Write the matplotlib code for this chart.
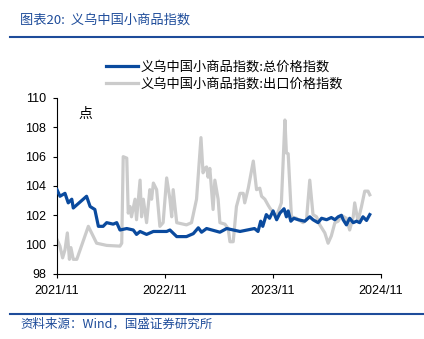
import matplotlib
matplotlib.use("Agg")
import matplotlib.pyplot as plt
import pandas as pd
from matplotlib.lines import Line2D

plt.rcParams['font.family'] = ['Liberation Sans', 'Noto Sans CJK SC', 'DejaVu Sans']

total_dates = ["2021-11-01", "2021-11-11", "2021-11-28", "2021-12-09", "2021-12-21", "2021-12-26",
               "2022-02-09", "2022-02-21", "2022-03-09", "2022-03-21", "2022-04-06", "2022-04-18",
               "2022-05-10", "2022-05-22", "2022-06-02", "2022-06-25", "2022-07-17", "2022-07-28",
               "2022-08-09", "2022-08-31", "2022-09-23", "2022-11-07", "2022-11-18", "2022-12-11",
               "2023-01-13", "2023-02-05", "2023-02-22", "2023-03-05", "2023-03-22", "2023-05-06",
               "2023-05-29", "2023-07-13", "2023-08-31", "2023-09-12", "2023-09-21", "2023-09-28",
               "2023-10-10", "2023-10-21", "2023-11-02", "2023-11-14", "2023-11-25", "2023-12-09",
               "2023-12-17", "2023-12-23", "2024-01-01", "2024-01-11", "2024-01-26", "2024-02-17",
               "2024-03-05", "2024-03-16", "2024-04-02", "2024-04-14", "2024-05-01", "2024-05-17",
               "2024-05-29", "2024-06-09", "2024-06-20", "2024-06-26", "2024-07-07", "2024-07-18",
               "2024-07-30", "2024-08-10", "2024-08-21", "2024-09-01", "2024-09-13", "2024-09-24"]
total_values = [103.75, 103.3, 103.5, 102.85, 103.1, 102.5,
                103.3, 102.6, 102.4, 101.25, 101.25, 101.5,
                101.4, 101.5, 101.0, 101.1, 101.0, 100.7,
                100.9, 100.7, 100.9, 100.9, 101.0, 100.55,
                100.55, 100.75, 101.15, 100.85, 101.1, 100.85,
                101.1, 100.9, 101.1, 100.9, 101.6, 101.25,
                102.05, 101.8, 102.3, 101.7, 102.15, 102.45,
                101.9, 102.3, 101.6, 101.8, 101.7, 101.6,
                101.9, 101.7, 101.5, 101.8, 101.7, 101.85,
                101.7, 101.9, 102.0, 101.7, 101.35, 101.8,
                101.5, 101.6, 101.5, 101.9, 101.65, 102.05]

export_dates = ["2021-11-01", "2021-11-11", "2021-11-20", "2021-11-28", "2021-12-06", "2021-12-13",
                "2021-12-18", "2021-12-26", "2022-01-07", "2022-02-15", "2022-02-26", "2022-03-15",
                "2022-04-18", "2022-06-02", "2022-06-08", "2022-06-13", "2022-06-25", "2022-06-30",
                "2022-07-06", "2022-07-11", "2022-07-23", "2022-07-28", "2022-08-09", "2022-08-14",
                "2022-08-20", "2022-08-31", "2022-09-11", "2022-09-17", "2022-09-23", "2022-10-04",
                "2022-10-15", "2022-10-26", "2022-11-07", "2022-11-18", "2022-11-24", "2022-11-29",
                "2022-12-11", "2023-01-13", "2023-01-30", "2023-02-16", "2023-03-03", "2023-03-10",
                "2023-03-16", "2023-03-22", "2023-03-27", "2023-04-02", "2023-04-13", "2023-04-19",
                "2023-04-30", "2023-05-06", "2023-05-23", "2023-06-03", "2023-06-09", "2023-06-20",
                "2023-07-01", "2023-07-13", "2023-07-24", "2023-07-29", "2023-08-10", "2023-08-27",
                "2023-09-07", "2023-09-18", "2023-09-24", "2023-10-05", "2023-10-16", "2023-10-22",
                "2023-11-13", "2023-11-30", "2023-12-12", "2023-12-17", "2023-12-23", "2024-01-03",
                "2024-01-20", "2024-02-11", "2024-02-23", "2024-03-05", "2024-03-16", "2024-03-28",
                "2024-04-08", "2024-04-25", "2024-05-06", "2024-05-17", "2024-05-29", "2024-06-09",
                "2024-06-20", "2024-07-07", "2024-07-18", "2024-07-30", "2024-08-04", "2024-08-15",
                "2024-08-27", "2024-09-07", "2024-09-18", "2024-09-24"]
export_values = [100.35, 99.9, 99.1, 99.65, 100.8, 99.0,
                 99.8, 99.0, 99.0, 101.25, 100.8, 100.1,
                 99.95, 99.9, 100.1, 106.0, 105.9, 102.15,
                 102.6, 101.9, 103.1, 101.7, 104.4, 101.9,
                 103.1, 101.5, 103.75, 103.1, 104.2, 103.75,
                 101.25, 101.5, 104.55, 103.1, 101.9, 103.75,
                 101.5, 101.35, 101.5, 103.1, 107.3, 104.9,
                 105.2, 105.3, 104.6, 105.2, 102.4, 104.4,
                 103.1, 101.5, 101.4, 101.1, 100.2, 100.2,
                 102.6, 103.5, 103.5, 102.85, 103.85, 105.7,
                 103.75, 103.85, 103.3, 103.1, 102.7, 102.5,
                 101.9, 102.85, 108.5, 106.25, 106.2, 101.9,
                 101.8, 101.5, 101.7, 104.4, 102.05, 101.9,
                 101.35, 100.8, 100.1, 100.6, 101.5, 101.6,
                 102.0, 101.8, 101.0, 101.9, 102.85, 101.6,
                 102.6, 103.65, 103.65, 103.4]

series_names = ["义乌中国小商品指数:总价格指数", "义乌中国小商品指数:出口价格指数"]
x_ticks = ["2021-11-01", "2022-11-01", "2023-11-01", "2024-11-01"]
x_tick_labels = ["2021/11", "2022/11", "2023/11", "2024/11"]
y_ticks = [98, 100, 102, 104, 106, 108, 110]

blue = "#0A4A9E"
gray = "#CBCBCB"
head_blue = "#1E4C9A"

fig = plt.figure(figsize=(4.24, 3.39), dpi=100)
ax = fig.add_axes([57/424, 1-274/339, (381-57)/424, (274-98)/339])

ax.plot(pd.to_datetime(export_dates), export_values, color=gray, lw=2.3, solid_joinstyle='round', zorder=2)
ax.plot(pd.to_datetime(total_dates), total_values, color=blue, lw=2.3, solid_joinstyle='round', zorder=3)

ax.set_xlim(pd.Timestamp(x_ticks[0]), pd.Timestamp(x_ticks[-1]))
ax.set_ylim(98, 110)
ax.set_xticks(pd.to_datetime(x_ticks))
ax.set_xticklabels(x_tick_labels, fontsize=9)
ax.set_yticks(y_ticks)
ax.set_yticklabels([str(v) for v in y_ticks], fontsize=9)
ax.tick_params(axis='both', direction='out', length=3, width=0.8, pad=5)
for s in ['top', 'right']:
    ax.spines[s].set_visible(False)
for s in ['left', 'bottom']:
    ax.spines[s].set_linewidth(0.8)
ax.text(0.065, 0.95, "点", transform=ax.transAxes, fontsize=10,
        family=['Noto Sans CJK SC'], va='top', ha='left')

# legend
handles = [Line2D([0], [0], color=blue, lw=2.3), Line2D([0], [0], color=gray, lw=2.3)]
fig.legend(handles, series_names, loc='upper left', bbox_to_anchor=(106/424, 1-61/339),
           frameon=False, handlelength=2.4, handletextpad=0.25,
           labelspacing=0.3, borderaxespad=0, borderpad=0,
           prop={'family': ['Noto Sans CJK SC'], 'size': 9.5})

# header / footer
fig.text(20/424, 1-20/339, "图表20:  义乌中国小商品指数", color=head_blue, fontsize=9.5,
         family=['Noto Sans CJK SC'], style='italic', va='center', ha='left')
fig.add_artist(Line2D([10/424, 1.0], [1-37/339, 1-37/339], color=head_blue, lw=1.5))
fig.add_artist(Line2D([10/424, 1.0], [1-314/339, 1-314/339], color=head_blue, lw=1.5))
fig.text(20/424, 1-324/339, "资料来源：Wind，国盛证券研究所", color=head_blue, fontsize=9,
         family=['Noto Sans CJK SC'], style='italic', va='center', ha='left')

fig.savefig("out.png", dpi=100)
